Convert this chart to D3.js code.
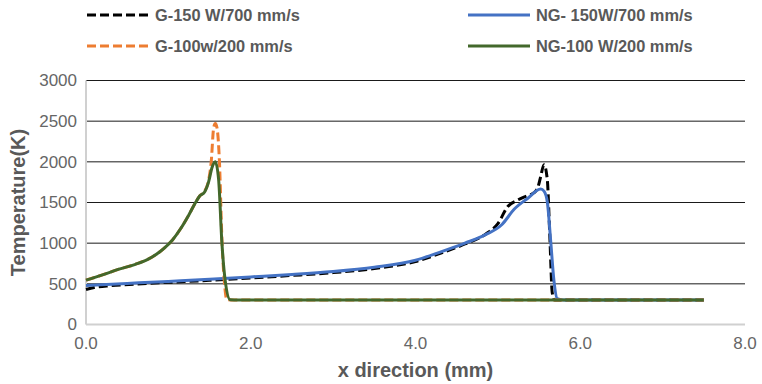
<!DOCTYPE html>
<html>
<head>
<meta charset="utf-8">
<script src="https://cdn.jsdelivr.net/npm/d3@7"></script>
<style>
  body { margin: 0; background: #fff; }
  svg { display: block; font-family: "Liberation Sans", Arial, sans-serif; }
  .tick-label { font-size: 17px; fill: #666; }
  .axis-title { font-size: 20px; font-weight: bold; fill: #595959; }
  .legend-text { font-size: 16.4px; font-weight: bold; fill: #595959; }
</style>
</head>
<body>
<div class="wrapper"></div>
<script>
// set the dimensions and margins of the graph
var margin = { top: 80.5, right: 17, bottom: 60, left: 86 },
  ultimatew = 762,
  ultimateh = 384,
  width = ultimatew - margin.left - margin.right,
  height = 324.5 - margin.top;

// tick values
var xTicks = [0, 2, 4, 6, 8];
var yTicks = [0, 500, 1000, 1500, 2000, 2500, 3000];

// G-150 W/700 mm/s (black dashed)
var g150X = [0, 0.1, 0.3, 0.6, 1.0, 1.5, 2.0, 2.5, 3.0, 3.5, 4.0, 4.3, 4.6, 4.85, 5.0, 5.12, 5.24, 5.35, 5.44, 5.49, 5.52, 5.56, 5.6, 5.63, 5.66, 5.69, 5.8, 6.5, 7.5];
var g150T = [430, 455, 478, 497, 518, 543, 572, 603, 638, 688, 775, 875, 990, 1110, 1240, 1450, 1530, 1580, 1620, 1700, 1820, 1965, 1780, 1100, 390, 300, 300, 300, 300];

// NG- 150W/700 mm/s (blue)
var ng150X = [0, 0.5, 1.0, 1.5, 2.0, 2.5, 3.0, 3.5, 4.0, 4.3, 4.6, 4.85, 5.05, 5.2, 5.36, 5.52, 5.56, 5.6, 5.64, 5.68, 5.72, 5.8, 6.5, 7.5];
var ng150T = [480, 505, 530, 555, 585, 615, 652, 705, 790, 890, 1000, 1105, 1230, 1420, 1550, 1665, 1640, 1510, 1040, 545, 320, 300, 300, 300];

// G-100w/200 mm/s (orange dashed)
var g100X = [0, 0.2, 0.4, 0.6, 0.75, 0.85, 0.95, 1.05, 1.15, 1.25, 1.33, 1.38, 1.44, 1.49, 1.52, 1.55, 1.57, 1.59, 1.62, 1.65, 1.68, 1.71, 1.8, 3.0, 5.0, 7.5];
var g100T = [545, 610, 680, 740, 800, 860, 940, 1040, 1180, 1350, 1500, 1580, 1640, 1780, 2000, 2420, 2470, 2420, 2000, 1050, 520, 305, 300, 300, 300, 300];

// NG-100 W/200 mm/s (green)
var ng100X = [0, 0.2, 0.4, 0.6, 0.75, 0.85, 0.95, 1.05, 1.15, 1.25, 1.33, 1.38, 1.44, 1.49, 1.53, 1.57, 1.61, 1.65, 1.69, 1.75, 1.85, 3.0, 5.0, 7.5];
var ng100T = [545, 610, 680, 740, 800, 860, 940, 1040, 1180, 1350, 1500, 1580, 1630, 1760, 1930, 2000, 1780, 1000, 540, 305, 300, 300, 300, 300];

var seriesNames = ["G-150 W/700 mm/s", "NG- 150W/700 mm/s", "G-100w/200 mm/s", "NG-100 W/200 mm/s"];
var seriesColors = ["#000000", "#4472C4", "#ED7D31", "#43682B"];
var seriesDashed = [true, false, true, false];
var seriesX = [g150X, ng150X, g100X, ng100X];
var seriesT = [g150T, ng150T, g100T, ng100T];

var svg = d3
  .select(".wrapper")
  .append("svg")
  .attr("width", ultimatew)
  .attr("height", ultimateh);

var g = svg
  .append("g")
  .attr("transform", "translate(" + margin.left + "," + margin.top + ")");

// scales
var x = d3.scaleLinear().domain([0, 8]).range([0, 659]);
var y = d3.scaleLinear().domain([0, 3000]).range([height, 0]);

// gridlines
g.selectAll(".grid")
  .data(yTicks.filter(function(d) { return d > 0; }))
  .enter()
  .append("line")
  .attr("class", "grid")
  .attr("x1", 0)
  .attr("x2", x(8))
  .attr("y1", function(d) { return y(d); })
  .attr("y2", function(d) { return y(d); })
  .attr("stroke", "#1a1a1a")
  .attr("stroke-width", 1);

// axis lines (light gray)
g.append("line")
  .attr("x1", 0).attr("x2", x(8))
  .attr("y1", y(0)).attr("y2", y(0))
  .attr("stroke", "#d0d0d0").attr("stroke-width", 2);
g.append("line")
  .attr("x1", 0).attr("x2", 0)
  .attr("y1", y(0)).attr("y2", y(3000))
  .attr("stroke", "#d0d0d0").attr("stroke-width", 2);

// tick labels
g.selectAll(".ylab")
  .data(yTicks)
  .enter()
  .append("text")
  .attr("class", "tick-label")
  .attr("text-anchor", "end")
  .attr("x", -9)
  .attr("y", function(d) { return y(d); })
  .attr("dy", "0.35em")
  .text(function(d) { return d; });

g.selectAll(".xlab")
  .data(xTicks)
  .enter()
  .append("text")
  .attr("class", "tick-label")
  .attr("text-anchor", "middle")
  .attr("x", function(d) { return x(d); })
  .attr("y", height + 24)
  .text(function(d) { return d3.format(".1f")(d); });

// axis titles
svg.append("text")
  .attr("class", "axis-title")
  .attr("text-anchor", "middle")
  .attr("x", margin.left + x(4))
  .attr("y", 377)
  .text("x direction (mm)");

svg.append("text")
  .attr("class", "axis-title")
  .attr("text-anchor", "middle")
  .attr("transform", "translate(25," + (margin.top + height / 2) + ") rotate(-90)")
  .text("Temperature(K)");

// curves
var line = d3
  .line()
  .x(function(d) { return x(d[0]); })
  .y(function(d) { return y(d[1]); })
  .curve(d3.curveMonotoneX);

seriesNames.forEach(function(name, i) {
  var pts = seriesX[i].map(function(v, j) { return [v, seriesT[i][j]]; });
  g.append("path")
    .datum(pts)
    .attr("fill", "none")
    .attr("stroke", seriesColors[i])
    .attr("stroke-width", 3)
    .attr("stroke-dasharray", seriesDashed[i] ? "9,4" : null)
    .attr("stroke-linejoin", "round")
    .attr("d", line);
});

// legend
var legendPos = [
  { lx: 87, ty: 15 },
  { lx: 468, ty: 15 },
  { lx: 87, ty: 46 },
  { lx: 468, ty: 46 }
];

var legend = svg
  .selectAll(".legend")
  .data(seriesNames)
  .enter()
  .append("g")
  .attr("class", "legend")
  .attr("transform", function(d, i) {
    return "translate(" + legendPos[i].lx + "," + legendPos[i].ty + ")";
  });

legend
  .append("line")
  .attr("x1", 0)
  .attr("x2", 62)
  .attr("y1", 0)
  .attr("y2", 0)
  .attr("stroke", function(d, i) { return seriesColors[i]; })
  .attr("stroke-width", 3)
  .attr("stroke-dasharray", function(d, i) { return seriesDashed[i] ? "9,4" : null; });

legend
  .append("text")
  .attr("class", "legend-text")
  .attr("x", 68)
  .attr("dy", "0.35em")
  .text(function(d) { return d; });
</script>
</body>
</html>
